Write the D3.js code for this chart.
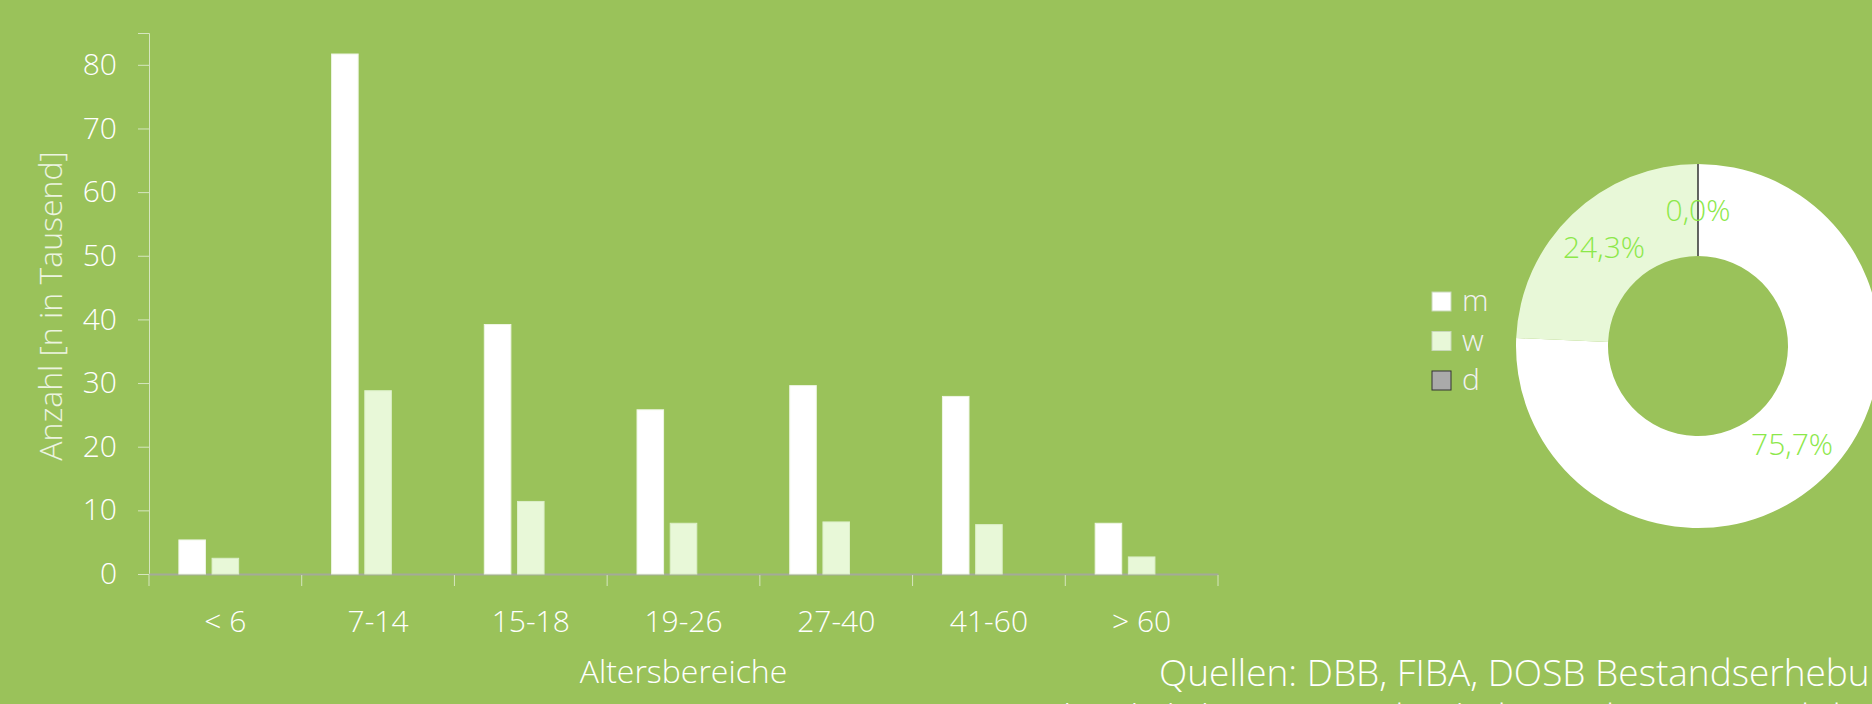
<!DOCTYPE html>
<html>
<head>
<meta charset="utf-8">
<script src="https://cdn.jsdelivr.net/npm/d3@7"></script>
<style>
	html,body{margin:0;padding:0;background:#9ac25a;overflow:hidden}
	svg{display:block;font-family:"Open Sans",sans-serif;font-weight:300}
</style>
</head>
<body>
<div id="graphHolder"></div>
<script>
// age groups and members per sex (in thousand)
const categories = ['< 6','7-14','15-18','19-26','27-40','41-60','> 60']
const series = ['m','w','d']
const valuesM = [5.35,81.7,39.2,25.8,29.6,27.9,7.97]
const valuesW = [2.47,28.8,11.4,7.97,8.18,7.76,2.68]
const valuesD = [0,0,0,0,0,0,0]
const yTicks = [0,10,20,30,40,50,60,70,80]
// share of all members (percent)
const pieShares = [75.7,24.3,0.0]

const width = 1872,height = 704
const colors = {m:'#ffffff',w:'#e8f8d8',d:'#aaaaaa'}
const strokes = {m:'#eef6e4',w:'#dcefc8',d:'#333333'}

const svg = d3.select('#graphHolder').append('svg')
	.attr('width',width)
	.attr('height',height)

/* bar chart */
const x0 = d3.scaleBand().domain(categories).range([149,1218])
const x1 = d3.scaleBand().domain(series).range([0,x0.bandwidth()])
	.paddingInner(0.2).paddingOuter(0.9)
const y = d3.scaleLinear().domain([0,85]).range([574,33])

const rows = categories.map((c,i) => ({cat:c,m:valuesM[i],w:valuesW[i],d:valuesD[i]}))

// y axis
const yAxis = svg.append('g').attr('transform','translate(149,0)')
	.call(d3.axisLeft(y).tickValues(yTicks).tickSize(11).tickPadding(21))
yAxis.select('.domain').attr('stroke','#d6e6bf')
yAxis.selectAll('.tick line').attr('stroke','#d6e6bf')
yAxis.selectAll('.tick text')
	.attr('fill','#ffffff')
	.style('font-size','30px')
	.style('font-family','"Open Sans",sans-serif')

// x axis
const xAxis = svg.append('g').attr('transform','translate(0,574)')
	.call(d3.axisBottom(x0).tickSize(0).tickPadding(37))
xAxis.select('.domain').attr('stroke','#a4aa98').attr('stroke-width',2)
xAxis.selectAll('.tick text')
	.attr('fill','#ffffff')
	.style('font-size','30px')
	.style('font-family','"Open Sans",sans-serif')
// separators between groups
svg.append('g').selectAll('line')
	.data(categories.concat(['end']))
	.enter().append('line')
	.attr('x1',(d,i) => i < categories.length ? x0(d) : x0.range()[1])
	.attr('x2',(d,i) => i < categories.length ? x0(d) : x0.range()[1])
	.attr('y1',575).attr('y2',586)
	.attr('stroke','#d6e6bf')

const groups = svg.append('g').selectAll('g').data(rows).enter().append('g')
	.attr('transform',d => `translate(${x0(d.cat)},0)`)
groups.selectAll('rect')
	.data(d => series.map(k => ({key:k,value:d[k]})))
	.enter().append('rect')
	.attr('x',d => x1(d.key))
	.attr('width',x1.bandwidth())
	.attr('y',d => y(d.value))
	.attr('height',d => y(0) - y(d.value))
	.attr('fill',d => colors[d.key])
	.attr('stroke',d => strokes[d.key])
	.attr('stroke-width',1)

// axis titles
svg.append('text')
	.attr('x',683.5).attr('y',683)
	.attr('text-anchor','middle')
	.attr('fill','#ffffff')
	.style('font-size','32px')
	.text('Altersbereiche')
svg.append('text')
	.attr('transform','translate(62,306) rotate(-90)')
	.attr('text-anchor','middle')
	.attr('fill','#ecf4e0')
	.style('font-size','32px')
	.text('Anzahl [n in Tausend]')

/* legend */
const legend = svg.append('g').attr('transform','translate(1432,292)')
const li = legend.selectAll('g').data(series).enter().append('g')
	.attr('transform',(d,i) => `translate(0,${i*39.5})`)
li.append('rect')
	.attr('width',19).attr('height',19)
	.attr('fill',d => colors[d])
	.attr('stroke',d => d === 'd' ? '#333333' : '#c8d8b8')
li.append('text')
	.attr('x',30).attr('y',19)
	.attr('fill','#f2f2f2')
	.style('font-size','30px')
	.text(d => d)

/* donut */
const pie = d3.pie().sort(null).value(d => d)
const arc = d3.arc().innerRadius(90).outerRadius(182)
const arcs = pie(pieShares)
const donut = svg.append('g').attr('transform','translate(1698,346)')
donut.selectAll('path').data(arcs).enter().append('path')
	.attr('d',arc)
	.attr('fill',(d,i) => colors[series[i]])
	.attr('stroke',(d,i) => series[i] === 'd' ? '#333333' : 'none')
	.attr('stroke-width',1.5)
donut.selectAll('text').data(arcs).enter().append('text')
	.attr('transform',d => `translate(${arc.centroid(d)})`)
	.attr('text-anchor','middle')
	.attr('dy','0.35em')
	.attr('fill','#8ce84a')
	.style('font-size','30px')
	.text(d => d3.format('.1f')(d.data).replace('.',',') + '%')

/* sources */
svg.append('text')
	.attr('x',1159).attr('y',686)
	.attr('fill','#ffffff')
	.style('font-size','37px')
	.text('Quellen: DBB, FIBA, DOSB Bestandserhebung')
svg.append('text')
	.attr('x',1063).attr('y',731)
	.attr('fill','#ffffff')
	.style('font-size','37px')
	.text('lt. jährlicher Bestandserhebung des DBB und der Landesverbände')
</script>
</body>
</html>
